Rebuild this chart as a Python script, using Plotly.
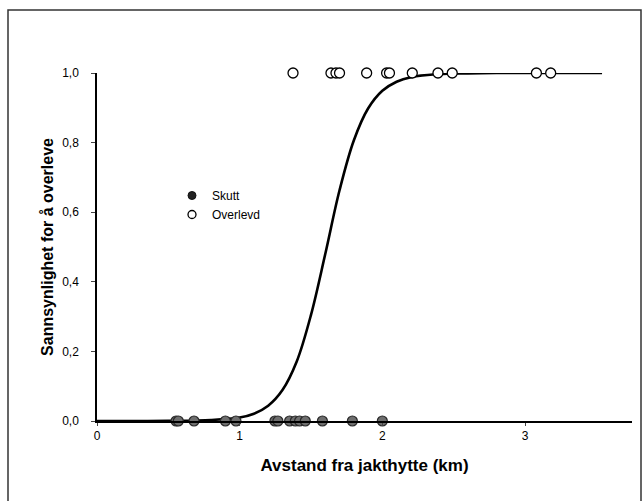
import plotly.graph_objects as go

# Data
skutt_x = [0.554, 0.57, 0.68, 0.90, 0.974, 1.247, 1.268, 1.35, 1.39, 1.42, 1.46, 1.58, 1.79, 2.00]
skutt_y = [0] * len(skutt_x)
overlevd_x = [1.374, 1.64, 1.675, 1.70, 1.89, 2.03, 2.05, 2.21, 2.39, 2.49, 3.08, 3.18]
overlevd_y = [1] * len(overlevd_x)

curve_x = [0.0, 0.5, 0.8, 1.0, 1.1, 1.2, 1.3, 1.4, 1.5, 1.6, 1.7, 1.8, 1.9, 2.0, 2.1, 2.2, 2.4, 2.6, 2.8, 3.0, 3.54]
curve_y = [0.0, 0.0005, 0.003, 0.010, 0.021, 0.044, 0.089, 0.171, 0.305, 0.48, 0.663, 0.806, 0.898, 0.949, 0.975, 0.988, 0.997, 0.999, 1.0, 1.0, 1.0]

x_ticks = [0, 1, 2, 3]
y_ticks = [0, 0.2, 0.4, 0.6, 0.8, 1.0]
y_ticktext = ["0,0", "0,2", "0,4", "0,6", "0,8", "1,0"]

skutt_style = dict(color="#6e6e6e", line=dict(color="#2a2a2a", width=1.2))
overlevd_style = dict(color="white", line=dict(color="black", width=1.3))

fig = go.Figure()
fig.add_trace(go.Scatter(x=curve_x, y=curve_y, mode="lines", line=dict(color="black", width=2.6, shape="spline"),
                         showlegend=False, cliponaxis=False))
fig.add_trace(go.Scatter(x=skutt_x, y=skutt_y, mode="markers", name="Skutt", showlegend=False,
                         marker=dict(size=10, **skutt_style), cliponaxis=False))
fig.add_trace(go.Scatter(x=overlevd_x, y=overlevd_y, mode="markers", name="Overlevd", showlegend=False,
                         marker=dict(size=10, **overlevd_style), cliponaxis=False))
# legend entries with smaller symbols
fig.add_trace(go.Scatter(x=[None], y=[None], mode="markers", name="Skutt",
                         marker=dict(size=8, color="#222222", line=dict(color="#111111", width=1))))
fig.add_trace(go.Scatter(x=[None], y=[None], mode="markers", name="Overlevd",
                         marker=dict(size=8, **overlevd_style)))

L, T, R, B = 97, 73, 11, 80
W, H = 643, 501
pw, ph = W - L - R, H - T - B
def px(x): return (x - L) / pw
def py(y): return (H - B - y) / ph

fig.add_shape(type="rect", xref="paper", yref="paper", x0=px(8), x1=px(641), y0=py(506), y1=py(10),
              line=dict(color="#333333", width=1.5), fillcolor="rgba(0,0,0,0)")

fig.update_layout(
    width=W, height=H, margin=dict(l=L, r=R, t=T, b=B),
    paper_bgcolor="white", plot_bgcolor="white",
    font=dict(family="Liberation Sans, Arial, sans-serif", color="black"),
    legend=dict(x=px(172), y=py(181), xanchor="left", yanchor="top", font=dict(size=12),
                bgcolor="rgba(0,0,0,0)", tracegroupgap=0, itemwidth=30),
    xaxis=dict(range=[0, 3.75], tickvals=x_ticks, ticks="outside", ticklen=3, tickwidth=1,
               showline=True, linecolor="black", linewidth=1.5, showgrid=False, zeroline=False,
               tickfont=dict(size=12),
               title=dict(text="<b>Avstand fra jakthytte (km)</b>", font=dict(size=17), standoff=17)),
    yaxis=dict(range=[0, 1], tickvals=y_ticks, ticktext=y_ticktext, ticks="outside", ticklen=4, tickwidth=1,
               showline=True, linecolor="black", linewidth=1.5, showgrid=False, zeroline=False,
               tickfont=dict(size=12), ticklabelstandoff=10,
               title=dict(text="<b>Sannsynlighet for å overleve</b>", font=dict(size=16), standoff=5)),
)

fig.write_html("out.html")
